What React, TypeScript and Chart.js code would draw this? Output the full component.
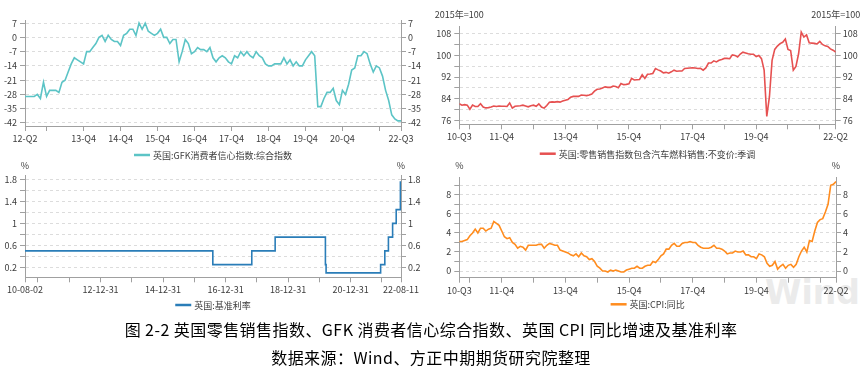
import React, { useEffect, useRef } from 'react';
import { Chart, registerables } from 'chart.js';

Chart.register(...registerables);

const FONT = '"Noto Sans CJK SC", "Noto Sans", sans-serif';
const TXT = '#3c3c3c';
const AXIS = '#a0a0a0';
const GRID = '#dcdcdc';

// ---------------- GfK consumer confidence (monthly, 2012-05 .. 2022-07)
const gfkValues = [
  -29, -29, -29, -29, -28, -30, -22, -29,
  -26, -26, -26, -27, -22, -21, -17, -13, -10, -11, -12, -13,
  -7, -7, -5, -3, 0, 1, -2, 1, -1, -2, -2, -4,
  1, 2, 4, 4, 1, 7, 4, 7, 3, 2, 1, 2,
  4, 0, 0, -3, -1, -1, -12, -7, -1, -3, -8, -7,
  -5, -6, -6, -7, -5, -10, -12, -10, -9, -10, -12, -13,
  -9, -10, -7, -9, -7, -9, -10, -7, -9, -10, -13, -14,
  -14, -13, -13, -13, -10, -13, -11, -14, -12, -14, -14, -11,
  -9, -7, -9, -34, -34, -30, -27, -27, -25, -31, -33, -26,
  -28, -23, -16, -15, -9, -9, -7, -8, -13, -17, -14, -15,
  -19, -26, -31, -38, -40, -41, -41,
];
const gfkTickIdx = [0, 7, 19, 31, 43, 55, 67, 79, 91, 103, 115, 122];
const gfkTickText = ['12-Q2', '', '13-Q4', '14-Q4', '15-Q4', '16-Q4', '17-Q4', '18-Q4', '19-Q4', '20-Q4', '', '22-Q3'];
const gfkYTicks = [-42, -35, -28, -21, -14, -7, 0, 7];
const gfkYText = ['-42', '-35', '-28', '-21', '-14', '-7', '0', '7'];

// ---------------- Retail sales index (monthly, 2010-08 .. 2022-06), 2015=100
const retailValues = [
  82.2, 81.7, 81.9, 81.7, 80.2, 81.7, 81.2, 81.2, 82.2, 81.0,
  80.7, 80.8, 81.0, 81.4, 81.2, 81.4, 81.3, 81.3, 81.2, 82.5,
  80.6, 81.3, 81.4, 81.5, 81.7, 81.4, 81.1, 81.5, 81.7, 81.3,
  82.2, 81.0, 80.6, 81.6, 82.8, 82.9, 82.8, 83.0, 82.8, 83.2,
  83.5, 83.8, 84.6, 84.9, 84.9, 84.9, 85.4, 85.3, 85.2, 85.4,
  85.8, 86.8, 87.5, 87.6, 88.0, 88.4, 88.2, 88.2, 88.7, 88.5,
  88.1, 89.6, 89.2, 89.3, 89.5, 91.5, 90.9, 91.0, 91.1, 92.8,
  91.5, 93.0, 93.1, 93.3, 95.1, 94.6, 94.2, 93.5, 93.7, 93.4,
  93.9, 94.5, 94.1, 94.2, 94.2, 95.1, 95.2, 95.3, 95.4, 95.3,
  95.1, 95.2, 94.5, 95.3, 97.1, 97.1, 97.9, 97.5, 98.1, 98.4,
  98.8, 98.8, 98.7, 100.1, 99.9, 99.3, 100.4, 101.1, 100.8, 100.5,
  100.3, 100.3, 99.5, 99.9, 98.7, 94.5, 77.6, 84.8, 98.1, 102.1,
  103.3, 104.2, 104.7, 105.9, 102.1, 101.7, 94.5, 95.9, 100.5, 108.4,
  106.6, 107.4, 104.5, 104.4, 104.3, 104.1, 105.0, 103.9, 103.4, 103.2,
  102.3, 101.8, 101.1,
];
const retailYTicks = [76, 80, 84, 88, 92, 96, 100, 104, 108];
const retailYText = ['76', '', '84', '', '92', '', '100', '', '108'];

// ---------------- CPI y/y (monthly, 2010-08 .. 2022-06), %
const cpiValues = [
  3.1, 3.1, 3.2, 3.3, 3.7,
  4.0, 4.4, 4.0, 4.5, 4.5, 4.2, 4.4, 4.5, 5.2, 5.0, 4.8, 4.2,
  3.6, 3.4, 3.5, 3.0, 2.8, 2.4, 2.6, 2.5, 2.2, 2.7, 2.7, 2.7,
  2.7, 2.8, 2.8, 2.4, 2.7, 2.9, 2.8, 2.7, 2.7, 2.2, 2.1, 2.0,
  1.9, 1.7, 1.6, 1.8, 1.5, 1.9, 1.6, 1.5, 1.2, 1.3, 1.0, 0.5,
  0.3, 0.0, 0.0, -0.1, 0.1, 0.0, 0.1, 0.0, -0.1, -0.1, 0.1, 0.2,
  0.3, 0.3, 0.5, 0.3, 0.3, 0.5, 0.6, 0.6, 1.0, 0.9, 1.2, 1.6,
  1.8, 2.3, 2.3, 2.7, 2.9, 2.6, 2.6, 2.9, 3.0, 3.0, 3.1, 3.0,
  3.0, 2.7, 2.5, 2.4, 2.4, 2.4, 2.5, 2.7, 2.4, 2.4, 2.3, 2.1,
  1.8, 1.9, 1.9, 2.1, 2.0, 2.0, 2.1, 1.7, 1.7, 1.5, 1.5, 1.3,
  1.8, 1.7, 1.5, 0.8, 0.5, 0.6, 1.0, 0.2, 0.5, 0.7, 0.3, 0.6,
  0.7, 0.4, 0.7, 1.5, 2.1, 2.5, 2.0, 3.2, 3.1, 4.2, 5.1, 5.4,
  5.5, 6.2, 7.0, 9.0, 9.1, 9.4,
];
const cpiYTicks = [0, 1, 2, 3, 4, 5, 6, 7, 8, 9];
const cpiYText = ['0', '', '2', '', '4', '', '6', '', '8', ''];

// shared monthly x ticks for retail & CPI (index 0 = 2010-08)
const monthTickIdx = [0, 4, 16, 28, 40, 52, 64, 76, 88, 100, 112, 124, 136, 142];
const monthTickText = ['10-Q3', '', '11-Q4', '', '13-Q4', '', '15-Q4', '', '17-Q4', '', '19-Q4', '', '', '22-Q2'];

// ---------------- Bank rate (step changes), %
const rateDates = [
  '2010-08-02', '2016-08-04', '2017-11-02', '2018-08-02', '2020-03-11', '2020-03-19',
  '2021-12-16', '2022-02-03', '2022-03-17', '2022-05-05', '2022-06-16', '2022-08-04', '2022-08-11',
];
const rateValues = [0.5, 0.25, 0.5, 0.75, 0.25, 0.1, 0.25, 0.5, 0.75, 1.0, 1.25, 1.75, 1.75];
const rateTickDates = [
  '2010-08-02', '2010-12-31', '2011-12-31', '2012-12-31', '2013-12-31', '2014-12-31', '2015-12-31',
  '2016-12-31', '2017-12-31', '2018-12-31', '2019-12-31', '2020-12-31', '2021-12-31', '2022-08-11',
];
const rateTickText = ['10-08-02', '', '', '12-12-31', '', '14-12-31', '', '16-12-31', '', '18-12-31', '', '20-12-31', '', '22-08-11'];
const rateYTicks = [0.2, 0.4, 0.6, 0.8, 1.0, 1.2, 1.4, 1.6, 1.8];
const rateYText = ['0.2', '', '0.6', '', '1', '', '1.4', '', '1.8'];

const dayOf = (d: string) => Date.parse(d + 'T00:00:00Z') / 86400000;

type Panel = {
  left: number; top: number; w: number; h: number;
  padTop: number; axisL: number; axisR: number; axisB: number;
  points: { x: number; y: number }[];
  color: string; stepped?: boolean;
  xMin: number; xMax: number; xTicks: number[]; xText: string[];
  yMin: number; yMax: number; yTicks: number[]; yText: string[];
  legend: string; legendY: number; unit?: string; unitY?: number;
};

const decoPlugin = {
  id: 'panelDeco',
  afterDraw(chart: any, _args: any, opts: any) {
    const { ctx, chartArea: ca } = chart;
    ctx.save();
    ctx.font = `9px ${FONT}`;
    const tw = ctx.measureText(opts.legend).width;
    const lw = 16;
    const gap = 3;
    const total = lw + gap + tw;
    const x0 = (ca.left + ca.right) / 2 - total / 2;
    const y = opts.legendY;
    ctx.strokeStyle = opts.color;
    ctx.lineWidth = 2.5;
    ctx.beginPath();
    ctx.moveTo(x0, y);
    ctx.lineTo(x0 + lw, y);
    ctx.stroke();
    ctx.fillStyle = TXT;
    ctx.textBaseline = 'middle';
    ctx.textAlign = 'left';
    ctx.fillText(opts.legend, x0 + lw + gap, y + 0.5);
    if (opts.unit) {
      ctx.textAlign = 'center';
      ctx.fillText(opts.unit, ca.left, opts.unitY);
      ctx.fillText(opts.unit, ca.right, opts.unitY);
    }
    ctx.restore();
  },
};

function buildConfig(p: Panel): any {
  const tickFont = { family: FONT, size: 9 };
  const yCommon = {
    type: 'linear',
    min: p.yMin,
    max: p.yMax,
    afterBuildTicks: (s: any) => { s.ticks = p.yTicks.map((v) => ({ value: v })); },
    ticks: {
      autoSkip: false,
      color: TXT,
      font: tickFont,
      callback: (_v: any, i: number) => p.yText[i],
    },
  };
  return {
    type: 'line',
    data: {
      datasets: [{
        data: p.points,
        borderColor: p.color,
        backgroundColor: p.color,
        borderWidth: 1.6,
        pointRadius: 0,
        tension: 0,
        fill: false,
        stepped: p.stepped ? 'before' : false,
      }],
    },
    options: {
      responsive: false,
      animation: false,
      devicePixelRatio: 1,
      layout: { padding: { top: p.padTop, left: 0, right: 0, bottom: 0 } },
      plugins: {
        legend: { display: false },
        tooltip: { enabled: false },
        panelDeco: { legend: p.legend, legendY: p.legendY, color: p.color, unit: p.unit, unitY: p.unitY },
      },
      scales: {
        x: {
          type: 'linear',
          position: 'bottom',
          min: p.xMin,
          max: p.xMax,
          afterBuildTicks: (s: any) => { s.ticks = p.xTicks.map((v) => ({ value: v })); },
          afterFit: (s: any) => { s.height = p.axisB; },
          grid: { drawOnChartArea: false, drawTicks: true, tickLength: 5, color: AXIS },
          border: { display: true, color: AXIS },
          ticks: {
            autoSkip: false, maxRotation: 0, minRotation: 0, padding: 2,
            color: TXT, font: tickFont,
            callback: (_v: any, i: number) => p.xText[i],
          },
        },
        y: {
          ...yCommon,
          position: 'left',
          afterFit: (s: any) => { s.width = p.axisL; },
          grid: { color: GRID, tickColor: AXIS, tickLength: 5, drawTicks: true },
          border: { display: true, color: AXIS, dash: [3, 3] },
          ticks: { ...yCommon.ticks, padding: 3 },
        },
        y2: {
          ...yCommon,
          position: 'right',
          afterFit: (s: any) => { s.width = p.axisR; },
          grid: { drawOnChartArea: false, color: AXIS, tickColor: AXIS, tickLength: 5, drawTicks: true },
          border: { display: true, color: AXIS },
          ticks: { ...yCommon.ticks, padding: 2 },
        },
      },
    },
    plugins: [decoPlugin],
  };
}

const panels: Panel[] = [
  {
    left: 0, top: 0, w: 430, h: 170,
    padTop: 20.7, axisL: 25, axisR: 29, axisB: 44,
    points: gfkValues.map((v, i) => ({ x: i, y: v })),
    color: '#5cc4c6',
    xMin: 0, xMax: gfkValues.length - 1, xTicks: gfkTickIdx, xText: gfkTickText,
    yMin: -43.5, yMax: 8.2, yTicks: gfkYTicks, yText: gfkYText,
    legend: '英国:GFK消费者信心指数:综合指数', legendY: 155,
  },
  {
    left: 430, top: 0, w: 432, h: 170,
    padTop: 26.7, axisL: 29.3, axisR: 26.3, axisB: 45.7,
    points: retailValues.map((v, i) => ({ x: i, y: v })),
    color: '#e65050',
    xMin: 0, xMax: retailValues.length - 1, xTicks: monthTickIdx, xText: monthTickText,
    yMin: 74.7, yMax: 110.4, yTicks: retailYTicks, yText: retailYText,
    legend: '英国:零售销售指数包含汽车燃料销售:不变价:季调', legendY: 153.7,
    unit: '2015年=100', unitY: 15,
  },
  {
    left: 0, top: 160, w: 430, h: 160,
    padTop: 15, axisL: 25, axisR: 29, axisB: 42.7,
    points: rateDates.map((d, i) => ({ x: dayOf(d), y: rateValues[i] })),
    color: '#2a7db8', stepped: true,
    xMin: dayOf(rateDates[0]), xMax: dayOf(rateDates[rateDates.length - 1]),
    xTicks: rateTickDates.map(dayOf), xText: rateTickText,
    yMin: 0.02, yMax: 1.88, yTicks: rateYTicks, yText: rateYText,
    legend: '英国:基准利率', legendY: 145,
    unit: '%', unitY: 5.7,
  },
  {
    left: 430, top: 160, w: 432, h: 160,
    padTop: 17.7, axisL: 29.3, axisR: 26, axisB: 42.3,
    points: cpiValues.map((v, i) => ({ x: i, y: v })),
    color: '#ff8c1e',
    xMin: 0, xMax: cpiValues.length - 1, xTicks: monthTickIdx, xText: monthTickText,
    yMin: -0.7, yMax: 9.8, yTicks: cpiYTicks, yText: cpiYText,
    legend: '英国:CPI:同比', legendY: 144.3,
    unit: '%', unitY: 5.7,
  },
];

function PanelChart({ spec }: { spec: Panel }) {
  const ref = useRef<HTMLCanvasElement>(null);
  useEffect(() => {
    const chart = new Chart(ref.current as HTMLCanvasElement, buildConfig(spec));
    return () => chart.destroy();
  }, [spec]);
  return (
    <canvas
      ref={ref}
      width={spec.w}
      height={spec.h}
      style={{ position: 'absolute', left: spec.left, top: spec.top, width: spec.w, height: spec.h }}
    />
  );
}

export default function App() {
  return (
    <div style={{ position: 'absolute', left: 0, top: 0, width: 862, height: 372, background: '#ffffff', overflow: 'hidden' }}>
      <div
        style={{
          position: 'absolute', left: 765, top: 276, fontSize: 33, lineHeight: '33px',
          fontWeight: 'bold', fontFamily: '"DejaVu Sans", sans-serif', color: '#ebebeb', whiteSpace: 'nowrap',
        }}
      >
        Wind
      </div>
      {panels.map((p, i) => (
        <PanelChart key={i} spec={p} />
      ))}
      <div
        style={{
          position: 'absolute', left: 0, top: 318, width: 862, height: 22, lineHeight: '22px',
          textAlign: 'center', fontSize: 16, letterSpacing: '0.45px', fontFamily: FONT, color: '#000', whiteSpace: 'nowrap',
        }}
      >
        图 2-2 英国零售销售指数、GFK 消费者信心综合指数、英国 CPI 同比增速及基准利率
      </div>
      <div
        style={{
          position: 'absolute', left: 0, top: 346, width: 862, height: 22, lineHeight: '22px',
          textAlign: 'center', fontSize: 16, letterSpacing: '0.45px', fontFamily: FONT, color: '#000', whiteSpace: 'nowrap',
        }}
      >
        数据来源：Wind、方正中期期货研究院整理
      </div>
    </div>
  );
}
